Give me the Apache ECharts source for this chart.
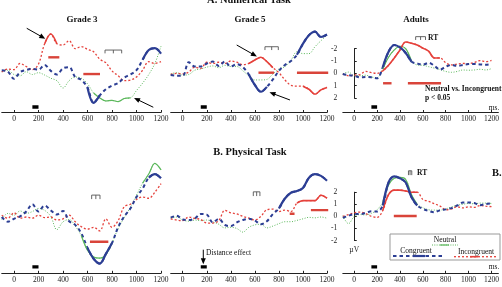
<!DOCTYPE html>
<html><head><meta charset="utf-8">
<script src="https://cdn.jsdelivr.net/npm/echarts@6/dist/echarts.min.js"></script>
<style>html,body{margin:0;padding:0;background:#fff;overflow:hidden}#c{width:502px;height:287px}</style>
</head><body><div id="c"></div>
<script>
// ---------------- DATA ----------------
const times = [-100,-50,0,50,100,150,200,250,300,350,400,450,500,550,600,650,700,750,800,850,900,950,1000,1050,1100,1150,1200];
const tickLabels = [0,200,400,600,800,1000,1200];
const panelTitles = ['Grade 3','Grade 5','Adults'];

// A. Numerical task (µV)
const g3Neutral     = [-0.13,-0.25,0.1,0.2,-0.13,0.1,-0.05,0.14,0.4,0.6,1.2,0.6,0.3,0.4,0.85,1.6,2.0,2.25,2.2,2.3,2.05,2.0,1.4,0.8,0.1,-0.8,-2.2];
const g3Congruent   = [-0.25,-0.13,0.45,-0.1,-0.27,-0.35,-0.3,-0.68,-0.2,0.1,-0.4,-0.5,0.3,0.54,1.15,2.4,1.8,1.3,1.0,0.8,0.35,0.1,-0.25,-1.1,-1.9,-2.05,-1.6];
const g3Incongruent = [-0.1,-0.35,-0.3,-0.8,-0.55,-0.3,-0.75,-2.4,-3.2,-2.4,-2.3,-2.65,-2.0,-2.17,-1.95,-1.75,-1.15,-0.85,-0.2,0.2,0.6,0.55,0.3,-0.25,-0.95,-0.8,-0.95];

const g5Neutral     = [0.05,-0.05,0.15,0.1,-0.25,-0.35,-0.5,-0.6,-0.45,-0.65,-0.55,-0.55,-0.2,0.2,0.54,0.54,0.5,0.05,-0.35,-0.54,-1.05,-1.75,-1.6,-1.6,-2.16,-2.65,-3.1];
const g5Congruent   = [0.14,0.2,0.2,-0.9,-0.55,-0.55,-0.8,-0.95,-0.6,-0.95,-0.55,-0.75,-0.5,0.1,0.95,1.5,1.1,0.5,-0.2,-0.68,-1.0,-1.5,-2.4,-3.1,-3.39,-2.95,-3.15];
const g5Incongruent = [0.1,0.0,0.05,-0.1,-0.5,-0.4,-0.9,-0.8,-0.9,-0.8,-1.0,-0.9,-0.7,-0.8,-1.08,-1.3,-0.95,-0.45,-0.05,0.54,0.97,1.05,1.05,1.3,1.7,1.35,1.15];

const adNeutral     = [0.05,-0.1,0.2,0.2,0.15,0.3,0.35,-0.35,-1.3,-1.9,-2.2,-2.0,-1.0,-0.68,-0.65,-0.54,-0.42,-0.3,-0.15,-0.08,-0.15,-0.27,-0.25,-0.27,-0.33,-0.27,-0.38];
const adCongruent   = [0.05,0.15,0.2,0.33,0.3,0.33,0.4,-0.5,-1.75,-2.3,-2.1,-1.65,-0.95,-0.8,-0.7,-0.85,-0.62,-0.3,-0.54,-0.68,-0.6,-0.68,-0.75,-0.76,-0.72,-0.7,-0.76];
const adIncongruent = [0.05,0.2,0.15,0.1,-0.15,-0.05,0.0,-0.2,-0.65,-1.25,-1.9,-2.55,-2.45,-2.3,-2.05,-1.8,-1.25,-1.25,-0.85,-0.68,-0.75,-0.8,-0.78,-0.88,-1.03,-0.95,-1.05];

// B. Physical task (µV)
const pg3Neutral     = [-0.25,0.25,0.1,0.45,0.25,0.4,0.66,0.5,0.0,-1.1,-0.45,-0.25,-0.8,-1.6,-2.8,-3.35,-3.45,-3.15,-2.2,-1.0,-0.1,0.75,1.75,2.75,3.5,4.38,3.85];
const pg3Congruent   = [-0.05,-0.44,-0.2,0.0,0.4,1.0,0.4,0.9,0.5,0.15,0.45,-0.4,-0.7,-1.4,-2.6,-3.5,-3.9,-3.1,-2.2,-0.9,0.0,0.65,1.6,2.3,3.2,3.5,3.15];
const pg3Incongruent = [0.1,-0.15,0.3,-0.15,-0.05,-0.15,0.1,-0.1,-0.05,-0.3,-0.2,0.1,-0.45,-0.85,-1.05,-0.9,-1.2,-0.2,-0.9,-0.35,0.8,1.0,1.4,1.6,1.5,2.0,2.7];

const pg5Neutral     = [-0.15,-0.05,-0.3,-0.4,-0.3,-0.35,-0.3,-0.45,-0.65,-0.95,-0.9,-1.0,-1.3,-0.9,-0.7,-0.65,-0.95,-0.8,-0.6,-0.44,-0.44,-0.33,-0.2,-0.08,-0.12,-0.05,-0.15];
const pg5Congruent   = [-0.1,0.05,-0.25,-0.3,-0.17,0.2,0.15,-0.5,-0.2,-0.7,-0.8,-0.5,-0.3,-0.2,-0.35,-0.65,-0.4,0.2,0.65,1.48,1.95,2.1,2.35,3.2,3.5,3.35,2.95];
const pg5Incongruent = [-0.2,-0.3,-0.35,-0.05,-0.17,-0.25,-0.55,-0.55,-0.35,0.5,0.3,0.2,0.0,-0.15,-0.3,0.0,0.55,0.6,0.4,0.52,0.4,1.1,1.3,1.3,1.3,1.75,1.5];

const padNeutral     = [0.05,-0.6,0.0,0.15,0.12,0.25,0.55,1.2,2.6,3.15,3.22,3.05,1.8,1.0,0.72,0.55,0.52,0.52,0.62,0.78,0.92,1.0,1.07,1.04,1.1,1.1,1.07];
const padCongruent   = [-0.12,0.05,0.19,0.19,0.28,0.42,0.4,0.9,2.8,3.3,3.15,2.8,1.6,0.9,0.62,0.45,0.35,0.5,0.58,0.68,0.9,1.15,1.15,1.1,0.93,1.02,1.07];
const padIncongruent = [0.0,0.15,0.3,0.35,0.25,0.0,-0.08,0.5,1.8,2.17,2.17,2.1,2.0,2.0,1.4,1.25,1.05,0.85,0.55,0.62,0.8,0.7,0.8,0.75,0.9,0.85,0.8];

// significant (solid) stretches of each wave, ms
const solidG3  = {neutral:[[650,950]], congruent:[[600,700],[1050,1200]], incongruent:[[250,350]]};
const solidG5  = {neutral:[], congruent:[[550,700],[950,1200]], incongruent:[[550,750],[1000,1200]]};
const solidAd  = {neutral:[[250,500]], congruent:[[250,500]], incongruent:[[250,750]]};
const solidPG3 = {neutral:[[550,800],[1050,1200]], congruent:[[600,800],[1100,1200]], incongruent:[]};
const solidPG5 = {neutral:[], congruent:[[800,1200]], incongruent:[[950,1200]]};
const solidPAd = {neutral:[[250,550]], congruent:[[250,550]], incongruent:[[250,550]]};

// neutral vs incongruent significance windows, ms
const sigG3 = [[280,370],[566,702]];
const sigG5 = [[630,760],[950,1210]];
const sigAd = [[252,326],[469,759]];
const sigPG3 = [[620,770]];
const sigPG5 = [[890,930],[1066,1210]];
const sigPAd = [[346,546]];

// reaction time: [start, mean, end], ms
const rtG3 = [743,811,879];
const rtG5 = [684,740,795];
const rtAd = [537,580,623];
const rtPG3 = [634,668,702];
const rtPG5 = [587,615,642];
const rtPAd = [474,488,503];

const stimulus = [150,200];

// ---------------- LAYOUT ----------------
const cols = [{left:1.75,width:159.25,max:1200},{left:170.7,width:156.3,max:1200},{left:342.8,width:159.2,max:1260}];
const rows = [{top:48.7,height:49.2,inverse:true,xOff:14.6,stim:2.74},{top:192.2,height:48.4,inverse:false,xOff:32.7,stim:-4.17}];

const panels = [
 {r:0,c:0,w:[g3Neutral,g3Congruent,g3Incongruent],solid:solidG3,sig:sigG3,sigLv:[-1.3,0.06],rt:rtG3,rtLv:[-1.89,-1.62],
  arrows:[[[104,-3.66],[234,-2.93]],[[1137,2.76],[1002,2.11]]]},
 {r:0,c:1,w:[g5Neutral,g5Congruent,g5Incongruent],solid:solidG5,sig:sigG5,sigLv:[-0.05,-0.05],rt:rtG5,rtLv:[-2.16,-1.89],
  arrows:[[[449,-2.3],[595,-1.49]],[[892,2.17],[745,1.63]]]},
 {r:0,c:2,w:[adNeutral,adCongruent,adIncongruent],solid:solidAd,sig:sigAd,sigLv:[0.81,0.81],rt:rtAd,rtLv:[-2.98,-2.71],arrows:[],showY:true},
 {r:1,c:0,w:[pg3Neutral,pg3Congruent,pg3Incongruent],solid:solidPG3,sig:sigPG3,sigLv:[-2.1],rt:rtPG3,rtLv:[1.76,1.43],arrows:[]},
 {r:1,c:1,w:[pg5Neutral,pg5Congruent,pg5Incongruent],solid:solidPG5,sig:sigPG5,sigLv:[0.22,0.52],rt:rtPG5,rtLv:[2.03,1.68],
  arrows:[[[171,-2.75],[171,-3.7]]]},
 {r:1,c:2,w:[padNeutral,padCongruent,padIncongruent],solid:solidPAd,sig:sigPAd,sigLv:[0.03],rt:rtPAd,rtLv:[3.77,3.41],arrows:[],showY:true,unit:'µV'}
];

const styles = [
 {key:'neutral',color:'#5cb85c',width:1,type:[1,1.6],solidWidth:1.2},
 {key:'incongruent',color:'#e5413b',width:1.3,type:[2,2],solidWidth:1.6},
 {key:'congruent',color:'#2c3e94',width:2,type:[3.5,3],solidWidth:2.2}
];
const waveIdx = {neutral:0,congruent:1,incongruent:2};
const SERIF = '"Liberation Serif","DejaVu Serif",serif';

function buildOption(rot){
const grid=[], xAxis=[], yAxis=[], series=[];
panels.forEach((p,gi)=>{
  const R=rows[p.r], C=cols[p.c];
  grid.push({left:C.left, width:C.width, top:R.top, height:R.height});
  xAxis.push({type:'value',gridIndex:gi,min:-100,max:C.max,offset:R.xOff,
    axisLine:{show:true,onZero:false,lineStyle:{color:'#222',width:1}},
    axisTick:{show:true,inside:true,length:2.5,customValues:tickLabels,lineStyle:{color:'#222'}},
    axisLabel:{customValues:tickLabels,fontFamily:SERIF,fontSize:7.5,color:'#222',margin:3,formatter:v=>String(v)},
    splitLine:{show:false}});
  yAxis.push({type:'value',gridIndex:gi,min:-2,max:2,interval:1,inverse:R.inverse,show:!!p.showY,offset:2.5,
    axisLine:{show:true,lineStyle:{color:'#222',width:1}},
    axisTick:{show:true,inside:true,length:2.5,lineStyle:{color:'#222'}},
    axisLabel:{fontFamily:SERIF,fontSize:7.5,color:'#222',margin:3},
    splitLine:{show:false},
    name:p.unit||'',nameLocation:'start',nameGap:5,nameTextStyle:{fontFamily:SERIF,fontSize:7.5,color:'#222'}});
  const base={type:'line',xAxisIndex:gi,yAxisIndex:gi,symbol:'none',clip:false,silent:true,animation:false};
  styles.forEach(s=>{
    const arr=p.w[waveIdx[s.key]];
    series.push(Object.assign({},base,{smooth:0.35,data:times.map((t,i)=>[t,arr[i]]),
      lineStyle:{color:s.color,width:s.width,type:s.type},z:3}));
    (p.solid[s.key]||[]).forEach(rg=>{
      series.push(Object.assign({},base,{smooth:0.35,
        data:times.filter(t=>t>=rg[0]&&t<=rg[1]).map(t=>[t,arr[times.indexOf(t)]]),
        lineStyle:{color:s.color,width:s.solidWidth,type:'solid'},z:4}));
    });
  });
  p.sig.forEach((rg,k)=>{
    series.push(Object.assign({},base,{data:[[rg[0],p.sigLv[k]],[rg[1],p.sigLv[k]]],
      lineStyle:{color:'#d9443a',width:2.4,type:'solid'},z:5}));
  });
  const [a,m,b]=p.rt, [top,low]=p.rtLv;
  series.push(Object.assign({},base,{data:[[a,low],[a,top],[b,top],[b,low],[b,'-'],[m,top],[m,low]],
    lineStyle:{color:'#555',width:0.9,type:'solid'},z:5}));
  series.push(Object.assign({},base,{data:[[stimulus[0],R.stim],[stimulus[1],R.stim]],
    lineStyle:{color:'#000',width:3.3,type:'solid'},z:5}));
  if(p.arrows.length){
    const pts=[];
    p.arrows.forEach((ar,k)=>{
      const r=(rot&&rot[gi])?rot[gi][k]:0;
      pts.push(ar[0],{value:ar[1],symbol:'triangle',symbolSize:[5,6],symbolRotate:r,itemStyle:{color:'#000'}},[ar[1][0],'-']);
    });
    series.push(Object.assign({},base,{data:pts,showSymbol:true,lineStyle:{color:'#000',width:1,type:'solid'},
      itemStyle:{color:'#000'},z:6}));
  }
});
return {animation:false,backgroundColor:'#fff',grid,xAxis,yAxis,series};
}

// ---------------- TEXT & LEGEND ----------------
function txt(text,x,y,size,bold,align){
  return {type:'text',silent:true,z:20,style:{text:text,x:x,y:y,fill:'#111',
    font:(bold?'bold ':'')+size+'px '+SERIF,align:align||'center',verticalAlign:'middle',textAlign:align||'center',textVerticalAlign:'middle'}};
}
function seg(x1,y1,x2,y2,color,w,dash){
  return {type:'line',silent:true,z:20,shape:{x1:x1,y1:y1,x2:x2,y2:y2},style:{stroke:color,lineWidth:w,lineDash:dash||null}};
}
const graphic=[
  txt('A. Numerical Task',249,0.5,10.5,true),
  txt(panelTitles[0],82,20,9,true),
  txt(panelTitles[1],250,20,9,true),
  txt(panelTitles[2],416,20,9,true),
  txt('B. Physical Task',250,152,10.5,true),
  txt('B.',492,173.5,10.5,true,'left'),
  txt('RT',428,38.5,7.5,true,'left'),
  txt('RT',417,173.5,7.5,true,'left'),
  txt('Neutral vs. Incongruent',425,89.5,7.5,true,'left'),
  txt('p < 0.05',425,98.5,7.5,true,'left'),
  txt('ms.',494,108,7.5,false),
  txt('ms.',494,267,7.5,false),
  txt('Distance effect',206,253.5,7.5,false,'left'),
  {type:'rect',silent:true,z:19,shape:{x:390,y:234,width:110,height:26},style:{fill:'#fff',stroke:'#999',lineWidth:1}},
  txt('Neutral',445,240,7.5,false),
  seg(432,245,458,245,'#5cb85c',1,[1,1.3]), seg(440,245,449,245,'#5cb85c',1.2),
  txt('Congruent',416,251.5,7.5,false),
  seg(393,256,442,256,'#2c3e94',2,[3.5,3]), seg(413,256,425,256,'#2c3e94',2.2),
  txt('Incongruent',476,252.5,7.5,false),
  seg(454,256.7,498,256.7,'#e5413b',1.3,[2,2]), seg(470,256.7,478,256.7,'#e5413b',1.6)
];

const chart=echarts.init(document.getElementById('c'),null,{renderer:'canvas'});
const opt0=buildOption(null); opt0.graphic=graphic;
chart.setOption(opt0);
// orient arrowheads along each arrow using the axes' own pixel mapping
const rot={};
panels.forEach((p,gi)=>{
  rot[gi]=p.arrows.map(ar=>{
    const s=chart.convertToPixel({gridIndex:gi},ar[0]), e=chart.convertToPixel({gridIndex:gi},ar[1]);
    const ang=Math.atan2(-(e[1]-s[1]),e[0]-s[0])*180/Math.PI;
    return ang-90;
  });
});
const opt1=buildOption(rot); opt1.graphic=graphic;
chart.setOption(opt1,true);
</script></body></html>
